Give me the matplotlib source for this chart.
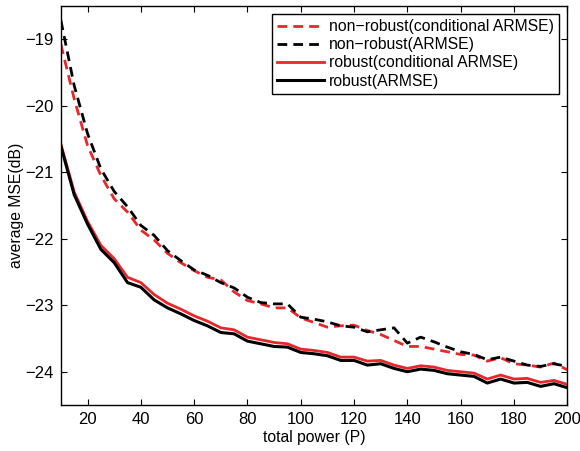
import numpy as np
import matplotlib
matplotlib.use("Agg")
import matplotlib.pyplot as plt

# total power P
power = list(range(10, 201, 5))

# non-robust, conditional ARMSE (red dashed)
nr_cond = [-19.08, -19.90, -20.60, -21.05, -21.40, -21.60, -21.87, -22.02, -22.22, -22.36,
           -22.48, -22.58, -22.62, -22.80, -22.93, -22.98, -23.04, -23.04, -23.19, -23.26,
           -23.33, -23.31, -23.30, -23.38, -23.44, -23.53, -23.62, -23.62, -23.66, -23.70,
           -23.74, -23.75, -23.84, -23.79, -23.88, -23.90, -23.93, -23.87, -23.97]

# non-robust, ARMSE (black dashed)
nr_armse = [-18.72, -19.70, -20.42, -20.95, -21.29, -21.52, -21.80, -21.95, -22.18, -22.33,
            -22.47, -22.55, -22.66, -22.74, -22.88, -22.96, -22.98, -22.98, -23.18, -23.21,
            -23.25, -23.31, -23.33, -23.40, -23.37, -23.34, -23.57, -23.48, -23.55, -23.63,
            -23.70, -23.74, -23.82, -23.78, -23.84, -23.90, -23.92, -23.88, -23.92]

# robust, conditional ARMSE (red solid)
r_cond = [-20.58, -21.30, -21.74, -22.10, -22.30, -22.58, -22.66, -22.84, -22.97, -23.06,
          -23.16, -23.24, -23.34, -23.37, -23.48, -23.52, -23.56, -23.58, -23.66, -23.68,
          -23.71, -23.78, -23.78, -23.84, -23.83, -23.90, -23.95, -23.91, -23.93, -23.98,
          -24.00, -24.02, -24.11, -24.05, -24.11, -24.10, -24.16, -24.13, -24.19]

# robust, ARMSE (black solid)
r_armse = [-20.61, -21.34, -21.78, -22.16, -22.36, -22.66, -22.73, -22.92, -23.04, -23.13,
           -23.23, -23.31, -23.41, -23.43, -23.54, -23.58, -23.62, -23.63, -23.71, -23.73,
           -23.76, -23.83, -23.83, -23.90, -23.88, -23.95, -24.00, -23.96, -23.98, -24.03,
           -24.05, -24.07, -24.17, -24.11, -24.17, -24.16, -24.22, -24.18, -24.24]

red = '#e8262b'

plt.rcParams['font.family'] = ['Liberation Sans', 'DejaVu Sans']
plt.rcParams['axes.unicode_minus'] = True

fig = plt.figure(figsize=(5.8, 4.51), dpi=100)
ax = fig.add_axes([0.105, 0.102, 0.873, 0.885])

ax.plot(power, nr_cond, color=red, lw=2, dashes=(3.5, 2.2), label='non\u2212robust(conditional ARMSE)')
ax.plot(power, nr_armse, color='black', lw=2, dashes=(3.5, 2.2), label='non\u2212robust(ARMSE)')
ax.plot(power, r_cond, color=red, lw=2, label='robust(conditional ARMSE)')
ax.plot(power, r_armse, color='black', lw=2.2, label='robust(ARMSE)')

ax.set_xlim(10, 200)
ax.set_ylim(-24.5, -18.5)
ax.set_xticks(range(20, 201, 20))
ax.set_yticks([-24, -23, -22, -21, -20, -19])
ax.tick_params(direction='in', top=True, right=True, labelsize=12, length=4, width=0.8, pad=5)
for s in ax.spines.values():
    s.set_linewidth(1.0)

ax.set_xlabel('total power (P)', fontsize=11.3, labelpad=2)
ax.set_ylabel('average MSE(dB)', fontsize=11.3, labelpad=1)

leg = ax.legend(loc='upper right', fontsize=11.3, handlelength=3.0, handletextpad=0.3,
                borderpad=0.35, labelspacing=0.2, fancybox=False, framealpha=1,
                edgecolor='black', borderaxespad=0.5)
leg.get_frame().set_linewidth(1.0)

fig.savefig('out.png', dpi=100)
